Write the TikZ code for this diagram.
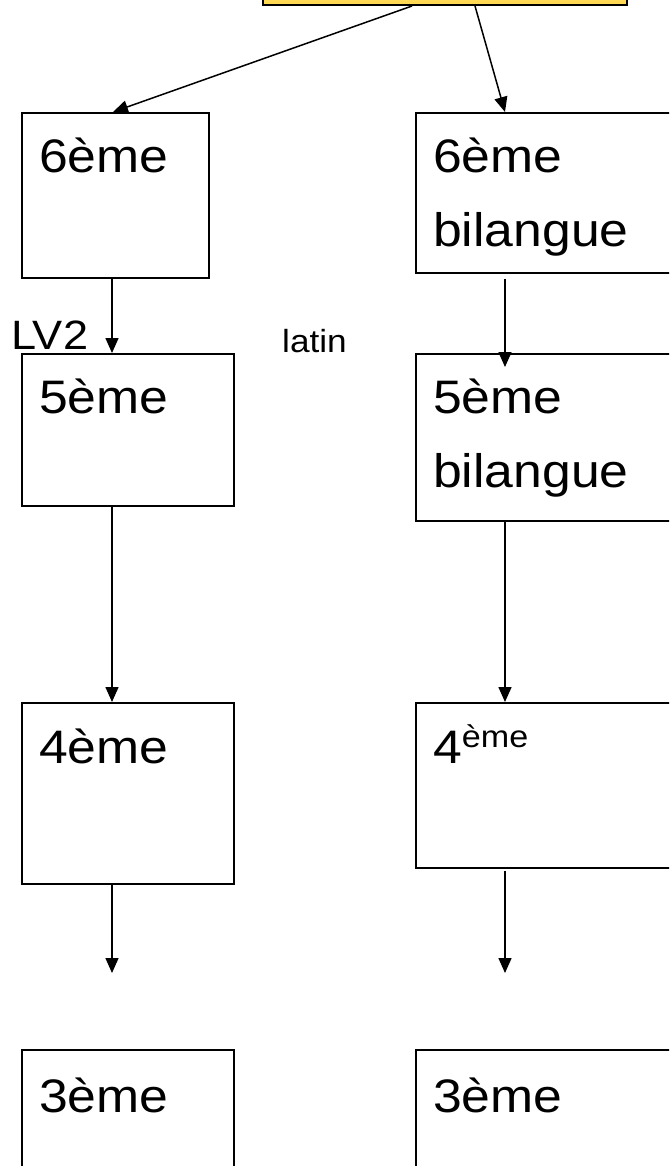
\documentclass[tikz,border=0pt]{standalone}
\usepackage{fontspec}
\setmainfont[FakeStretch=1.1]{Liberation Sans}
\usetikzlibrary{arrows.meta}
\definecolor{jaune}{RGB}{255,217,83}

\begin{document}
\begin{tikzpicture}
[x=1pt,y=-1pt,every node/.style={inner sep=0pt},
 classe/.style={draw,line width=1.8pt,rectangle,anchor=north west},
 txt/.style={anchor=base west,font=\fontsize{47}{56}\selectfont},
 fleche/.style={line width=1.5pt,-{Triangle[length=15pt,width=13pt]}}]
   \useasboundingbox (0,0) rectangle (669,1166);
   \clip (0,0) rectangle (669,1166);
   \node[classe,fill=jaune,anchor=south west,minimum width=364pt,minimum height=60pt] (c_0) at (262,6) {};
   \node[classe,minimum width=187pt,minimum height=165pt] (c_6) at (21,112) {};
   \node[classe,minimum width=300pt,minimum height=160pt] (c_6b) at (415,112) {};
   \node[classe,minimum width=212pt,minimum height=152pt] (c_5) at (21,353) {};
   \node[classe,minimum width=300pt,minimum height=167pt] (c_5b) at (415,353) {};
   \node[classe,minimum width=212pt,minimum height=181pt] (c_4) at (21,702) {};
   \node[classe,minimum width=300pt,minimum height=165pt] (c_4b) at (415,702) {};
   \node[classe,minimum width=212pt,minimum height=150pt] (c_3) at (21,1049) {};
   \node[classe,minimum width=300pt,minimum height=150pt] (c_3b) at (415,1049) {};
   % textes des cases
   \node[txt] (t_6) at (39,173) {6ème};
   \node[txt] (t_6b) at (433,173) {6ème};
   \node[txt] (t_6bb) at (433,247) {bilangue};
   \node[txt] (t_5) at (39,413) {5ème};
   \node[txt] (t_5b) at (433,413) {5ème};
   \node[txt] (t_5bb) at (433,487) {bilangue};
   \node[txt] (t_4) at (39,763) {4ème};
   \node[txt] (t_4b) at (433,763) {4\raisebox{16pt}{\fontsize{31}{31}\selectfont ème}};
   \node[txt] (t_3) at (39,1112) {3ème};
   \node[txt] (t_3b) at (433,1112) {3ème};
   \node[txt,font=\fontsize{41}{50}\selectfont] (lv2) at (11,349) {LV2};
   \node[txt,font=\fontsize{32}{38}\selectfont] (latin) at (282,352) {latin};
    \path[fleche]
    ([xshift=150pt]c_0.south west) edge ([xshift=92pt]c_6.north west)
    ([xshift=213pt]c_0.south west) edge ([xshift=90pt]c_6b.north west)
    ([xshift=91pt]c_6.south west) edge ([xshift=91pt]c_5.north west)
    ([xshift=90pt,yshift=-5pt]c_6b.south west) edge ([xshift=90pt,yshift=-14pt]c_5b.north west)
    ([xshift=91pt]c_5.south west) edge ([xshift=91pt]c_4.north west)
    ([xshift=90pt]c_5b.south west) edge ([xshift=90pt]c_4b.north west)
    ([xshift=91pt]c_4.south west) edge ([xshift=91pt,yshift=76pt]c_3.north west)
    ([xshift=90pt,yshift=-2pt]c_4b.south west) edge ([xshift=90pt,yshift=76pt]c_3b.north west);

\end{tikzpicture}
\end{document}
